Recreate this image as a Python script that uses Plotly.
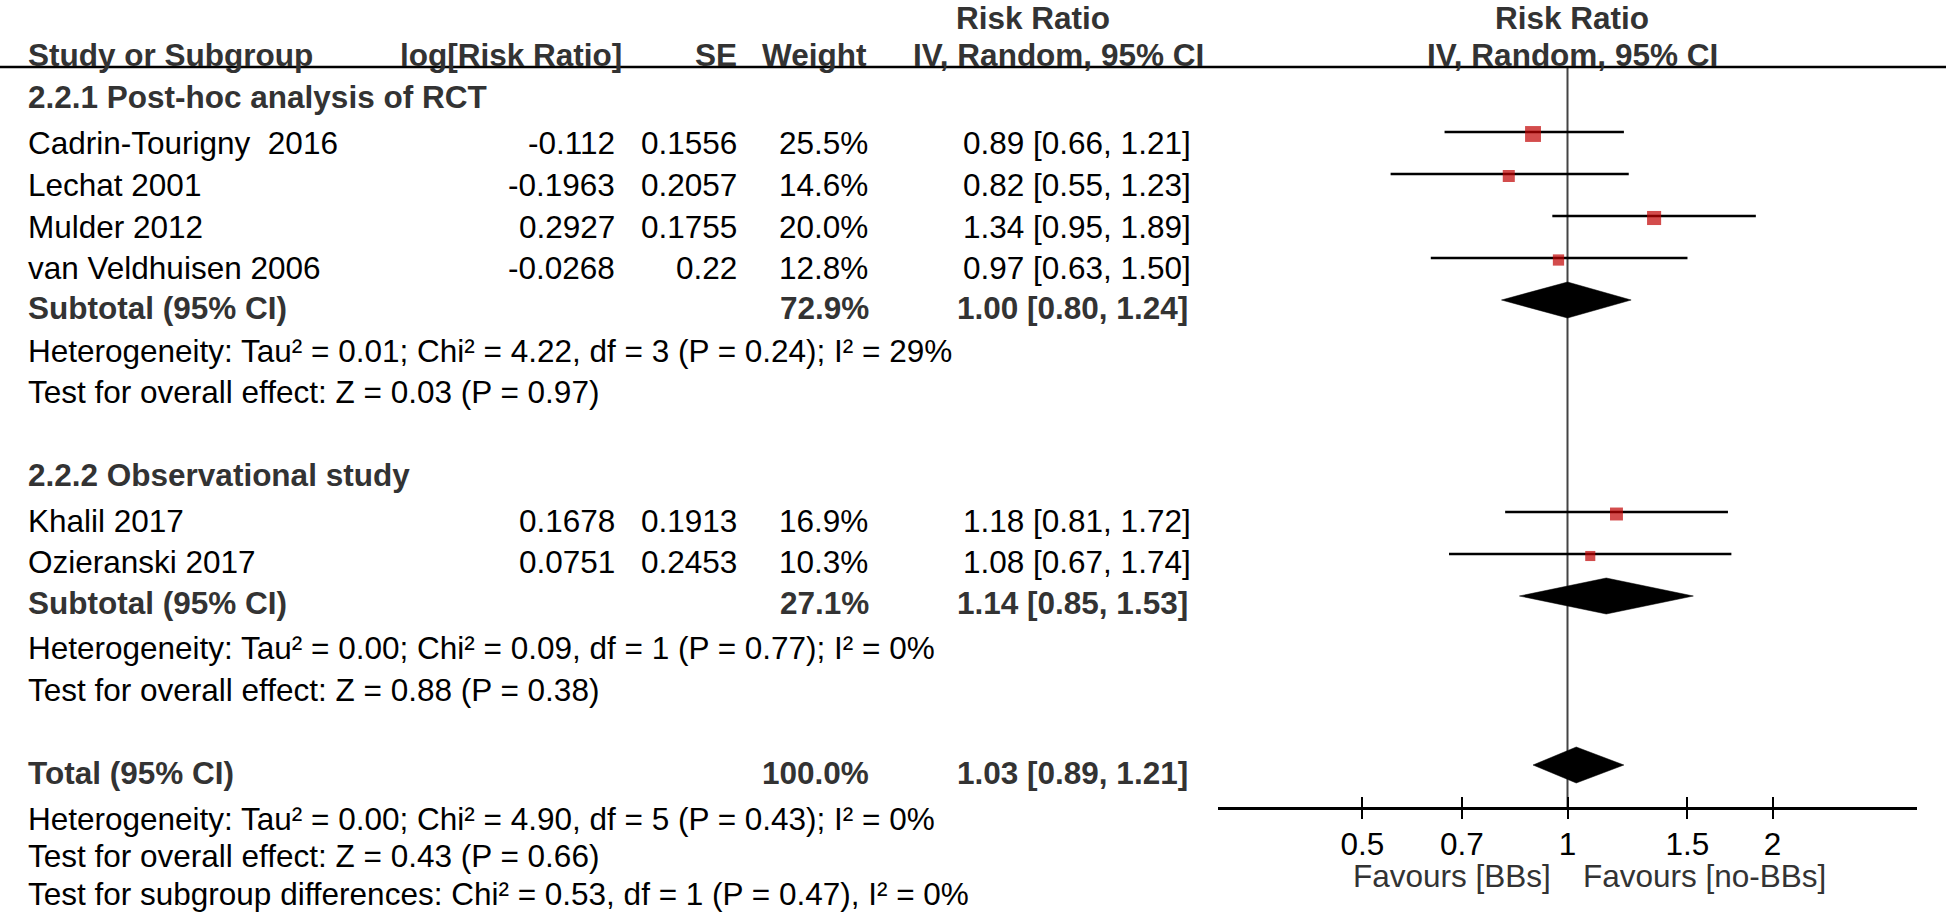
import plotly.graph_objects as go

W, H = 1946, 921

# ---------------- data ----------------
studies = ["Cadrin-Tourigny\u00a0 2016", "Lechat 2001", "Mulder 2012", "van Veldhuisen 2006",
           "Khalil 2017", "Ozieranski 2017"]
log_rr = [-0.112, -0.1963, 0.2927, -0.0268, 0.1678, 0.0751]
se = [0.1556, 0.2057, 0.1755, 0.22, 0.1913, 0.2453]
weight = [25.5, 14.6, 20.0, 12.8, 16.9, 10.3]
rr = [0.89, 0.82, 1.34, 0.97, 1.18, 1.08]
rr_lo = [0.66, 0.55, 0.95, 0.63, 0.81, 0.67]
rr_hi = [1.21, 1.23, 1.89, 1.50, 1.72, 1.74]

groups = ["2.2.1 Post-hoc analysis of RCT", "2.2.2 Observational study"]
sub_weight = [72.9, 27.1]
sub_rr = [1.00, 1.14]
sub_lo = [0.80, 0.85]
sub_hi = [1.24, 1.53]
sub_het = ["Heterogeneity: Tau² = 0.01; Chi² = 4.22, df = 3 (P = 0.24); I² = 29%",
           "Heterogeneity: Tau² = 0.00; Chi² = 0.09, df = 1 (P = 0.77); I² = 0%"]
sub_test = ["Test for overall effect: Z = 0.03 (P = 0.97)",
            "Test for overall effect: Z = 0.88 (P = 0.38)"]

tot_weight = 100.0
tot_rr, tot_lo, tot_hi = 1.03, 0.89, 1.21
tot_lines = ["Heterogeneity: Tau² = 0.00; Chi² = 4.90, df = 5 (P = 0.43); I² = 0%",
             "Test for overall effect: Z = 0.43 (P = 0.66)",
             "Test for subgroup differences: Chi² = 0.53, df = 1 (P = 0.47), I² = 0%"]

tick_vals = [0.5, 0.7, 1, 1.5, 2]
tick_text = ["0.5", "0.7", "1", "1.5", "2"]
fav_left = "Favours [BBs]"
fav_right = "Favours [no-BBs]"

# ---------------- layout constants (pixels) ----------------
FONT = "Liberation Sans, Arial, Helvetica, sans-serif"
FS = 31.5
GRAY = "#333333"
RED = "#C00000"

study_text_y = [143, 185, 227, 268, 521, 562]
study_mark_y = [132, 174, 216, 258, 512, 554]
sub_text_y = [308, 603]
sub_mark_y = [300, 596]
group_y = [97, 475]
het_y = [351, 648]
test_y = [392, 690]
tot_text_y = 773
tot_mark_y = 765
tot_lines_y = [819, 856, 894]
HEADER_LINE_Y = 67
AXIS_Y = 808
DIAMOND_HALF = 18

X_NAME = 27
X_LOGRR = 616
X_SE = 738
X_W = 868
X_CI = 1192

fig = go.Figure()

def txt(x, y, s, anchor="left", bold=False, color="black", size=FS):
    fig.add_annotation(x=x / W, xref="paper", y=y, yref="y",
                       text=("<b>%s</b>" % s) if bold else s, showarrow=False,
                       xanchor=anchor, yanchor="middle", align=anchor,
                       borderpad=0,
                       font=dict(family=FONT, size=size, color=color))

# reference line at RR = 1
fig.add_trace(go.Scatter(x=[1, 1], y=[HEADER_LINE_Y, AXIS_Y], mode="lines",
                         line=dict(color="#444444", width=2), hoverinfo="skip"))

# study CIs
cx, cy = [], []
for lo, hi, y in zip(rr_lo, rr_hi, study_mark_y):
    cx += [lo, hi, None]
    cy += [y, y, None]
fig.add_trace(go.Scatter(x=cx, y=cy, mode="lines", line=dict(color="black", width=2.5),
                         hoverinfo="skip"))
# study squares
fig.add_trace(go.Scatter(x=rr, y=[y + 2 for y in study_mark_y], mode="markers",
                         marker=dict(symbol="square", color=RED,
                                     size=[3.15 * w ** 0.5 for w in weight],
                                     line=dict(width=0)),
                         hoverinfo="skip"))

# diamonds
def diamond(est, lo, hi, y):
    fig.add_trace(go.Scatter(x=[lo, est, hi, est, lo],
                             y=[y, y - DIAMOND_HALF, y, y + DIAMOND_HALF, y],
                             mode="lines", fill="toself", fillcolor="black",
                             line=dict(color="black", width=0.5), hoverinfo="skip"))

for e, lo, hi, y in zip(sub_rr, sub_lo, sub_hi, sub_mark_y):
    diamond(e, lo, hi, y)
diamond(tot_rr, tot_lo, tot_hi, tot_mark_y)

# invisible trace for tick overlay axis
fig.add_trace(go.Scatter(x=[1], y=[-100], xaxis="x2", mode="markers",
                         marker=dict(opacity=0), hoverinfo="skip"))

# header line
fig.add_shape(type="line", xref="paper", yref="y", x0=0, x1=1,
              y0=HEADER_LINE_Y, y1=HEADER_LINE_Y, line=dict(color="black", width=2.5))

# ---------------- texts ----------------
txt(1033, 18, "Risk Ratio", "center", True, GRAY)
txt(1572, 18, "Risk Ratio", "center", True, GRAY)
txt(X_NAME, 55, "Study or Subgroup", "left", True, GRAY)
txt(623, 55, "log[Risk Ratio]", "right", True, GRAY)
txt(X_SE, 55, "SE", "right", True, GRAY)
txt(X_W, 55, "Weight", "right", True, GRAY)
txt(1205, 55, "IV, Random, 95% CI", "right", True, GRAY)
txt(1572, 55, "IV, Random, 95% CI", "center", True, GRAY)

idx_groups = [[0, 1, 2, 3], [4, 5]]
for g in range(2):
    txt(X_NAME, group_y[g], groups[g], "left", True, GRAY)
    for i in idx_groups[g]:
        y = study_text_y[i]
        txt(X_NAME, y, studies[i])
        txt(X_LOGRR, y, str(log_rr[i]), "right")
        txt(X_SE, y, str(se[i]), "right")
        txt(X_W + 1, y, "%.1f%%" % weight[i], "right")
        txt(X_CI, y, "%.2f [%.2f, %.2f]" % (rr[i], rr_lo[i], rr_hi[i]), "right")
    txt(X_NAME, sub_text_y[g], "Subtotal (95% CI)", "left", True, GRAY)
    txt(X_W + 2, sub_text_y[g], "%.1f%%" % sub_weight[g], "right", True, GRAY)
    txt(X_CI - 3, sub_text_y[g], "%.2f [%.2f, %.2f]" % (sub_rr[g], sub_lo[g], sub_hi[g]),
        "right", True, GRAY)
    txt(X_NAME, het_y[g], sub_het[g])
    txt(X_NAME, test_y[g], sub_test[g])

txt(X_NAME, tot_text_y, "Total (95% CI)", "left", True, GRAY)
txt(X_W + 2, tot_text_y, "%.1f%%" % tot_weight, "right", True, GRAY)
txt(X_CI - 3, tot_text_y, "%.2f [%.2f, %.2f]" % (tot_rr, tot_lo, tot_hi), "right", True, GRAY)
for s, y in zip(tot_lines, tot_lines_y):
    txt(X_NAME, y, s)

txt(1552, 876, fav_left, "right", False, GRAY)
txt(1582, 876, fav_right, "left", False, GRAY)

# ---------------- axes ----------------
XR = [-0.513, 0.513]
XD = [1218 / W, 1917 / W]
POS = 1 - AXIS_Y / H
fig.update_layout(
    width=W, height=H, margin=dict(l=0, r=0, t=0, b=0),
    paper_bgcolor="white", plot_bgcolor="white", showlegend=False,
    xaxis=dict(type="log", range=XR, domain=XD, anchor="free", position=POS,
               showline=True, linecolor="black", linewidth=3,
               ticks="inside", ticklen=10, tickwidth=2, tickcolor="black",
               tickvals=tick_vals, ticktext=tick_text, ticklabelstandoff=7,
               tickfont=dict(family=FONT, size=FS, color="black"),
               showgrid=False, zeroline=False, fixedrange=True),
    xaxis2=dict(type="log", range=XR, domain=XD, overlaying="x", anchor="free", position=POS,
                showline=False, ticks="outside", ticklen=10, tickwidth=2, tickcolor="black",
                tickvals=tick_vals, showticklabels=False, showgrid=False, zeroline=False),
    yaxis=dict(range=[H, 0], domain=[0, 1], visible=False, fixedrange=True),
)

fig.write_html("out.html", config={"displayModeBar": False},
               post_script="document.body.style.margin='0px';")
